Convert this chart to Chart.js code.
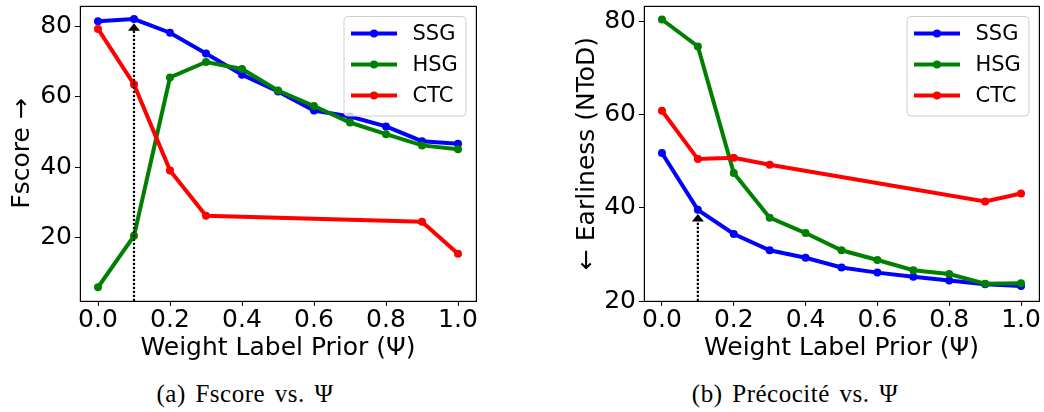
<!DOCTYPE html>
<html><head><meta charset="utf-8">
<script src="https://cdn.jsdelivr.net/npm/chart.js@4"></script>
<style>
html,body{margin:0;padding:0;background:#fff;width:1044px;height:412px;overflow:hidden}
#wrap{position:relative;width:1044px;height:412px;background:#fff}
canvas{position:absolute;top:0}
.cap{position:absolute;font-family:"Liberation Serif";font-size:25px;line-height:30px;letter-spacing:0.5px;word-spacing:3px;white-space:nowrap;transform:translateX(-50%);color:#000}
</style></head><body>
<div id="wrap">
<canvas id="ca" width="520" height="370" style="left:0"></canvas>
<canvas id="cb" width="524" height="370" style="left:520px"></canvas>
<div class="cap" style="left:245px;top:379px">(a) Fscore vs. Ψ</div>
<div class="cap" style="left:795px;top:379px">(b) Précocité vs. Ψ</div>
</div>
<script>
// ---- data ----
const psi = [0.0, 0.1, 0.2, 0.3, 0.4, 0.5, 0.6, 0.7, 0.8, 0.9, 1.0];
const psiCTC = [0.0, 0.1, 0.2, 0.3, 0.9, 1.0];
const seriesNames = ['SSG', 'HSG', 'CTC'];
const fscoreSSG = [81.5, 82.1, 78.2, 72.3, 66.3, 61.5, 56.1, 54.4, 51.6, 47.4, 46.7];
const fscoreHSG = [5.9, 20.5, 65.5, 69.9, 67.9, 61.8, 57.4, 52.7, 49.4, 46.2, 45.1];
const fscoreCTC = [79.3, 63.5, 39.1, 26.2, 24.5, 15.4];
const earlySSG = [51.8, 39.6, 34.4, 30.9, 29.3, 27.2, 26.1, 25.2, 24.4, 23.6, 23.2];
const earlyHSG = [80.5, 74.7, 47.5, 37.9, 34.6, 30.9, 28.8, 26.6, 25.8, 23.7, 23.8];
const earlyCTC = [60.9, 50.5, 50.8, 49.3, 41.4, 43.1];
const xTicks = [0.0, 0.2, 0.4, 0.6, 0.8, 1.0];
const yTicksA = [20, 40, 60, 80];
const yTicksB = [20, 40, 60, 80];
const arrowA = [0.1, 80.9];   // [psi, tip value]
const arrowB = [0.1, 38.7];
const xLabel = 'Weight Label Prior (Ψ)';
const yLabelA = 'Fscore →';
const yLabelB = '← Earliness (NToD)';

// ---- styling ----
const FONT = 'DejaVu Sans';
const COLORS = ['#0000ff', '#008000', '#ff0000'];

function pts(xs, ys) { return xs.map((x, i) => ({ x: x, y: ys[i] })); }

function mkDatasets(s, h, c) {
  const xs = [psi, psi, psiCTC];
  const ys = [s, h, c];
  return seriesNames.map((n, i) => ({
    label: n,
    data: pts(xs[i], ys[i]),
    borderColor: COLORS[i],
    backgroundColor: COLORS[i],
    pointBackgroundColor: COLORS[i],
    pointBorderColor: COLORS[i],
    borderWidth: 4,
    pointRadius: 4,
    pointBorderWidth: 0,
    pointHoverRadius: 4,
    tension: 0,
    order: 2 - i
  }));
}

const extras = {
  id: 'extras',
  afterDatasetsDraw(chart, args, opts) {
    const ctx = chart.ctx, ca = chart.chartArea;
    const xs = chart.scales.x, ys = chart.scales.y;
    ctx.save();
    // arrow (dotted, with head)
    const px = xs.getPixelForValue(opts.arrow[0]);
    const tip = ys.getPixelForValue(opts.arrow[1]);
    const base = tip + 7.5;
    ctx.strokeStyle = '#000'; ctx.fillStyle = '#000';
    ctx.lineWidth = 2.2;
    ctx.setLineDash([2.2, 1.8]);
    ctx.beginPath(); ctx.moveTo(px, ca.bottom); ctx.lineTo(px, base); ctx.stroke();
    ctx.setLineDash([]);
    ctx.beginPath(); ctx.moveTo(px, tip); ctx.lineTo(px - 6, base); ctx.lineTo(px + 6, base); ctx.closePath(); ctx.fill();
    // spines
    ctx.lineWidth = 1.2;
    ctx.strokeStyle = '#000';
    ctx.strokeRect(ca.left + 0.4, ca.top + 0.4, ca.right - ca.left, ca.bottom - ca.top);
    // legend
    const bw = 122, bh = 99.5;
    const lx = ca.right - 10 - bw, ly = ca.top + 10.5;
    ctx.beginPath();
    ctx.roundRect(lx, ly, bw, bh, 4);
    ctx.fillStyle = 'rgba(255,255,255,0.8)';
    ctx.fill();
    ctx.strokeStyle = '#d0d0d0'; ctx.lineWidth = 1;
    ctx.stroke();
    ctx.font = '21px "' + FONT + '"';
    ctx.textBaseline = 'middle'; ctx.textAlign = 'left';
    chart.data.datasets.forEach((d, i) => {
      const ry = ly + 17 + i * 31;
      ctx.strokeStyle = d.borderColor; ctx.lineWidth = 4;
      ctx.beginPath(); ctx.moveTo(lx + 7, ry); ctx.lineTo(lx + 53, ry); ctx.stroke();
      ctx.fillStyle = d.borderColor;
      ctx.beginPath(); ctx.arc(lx + 30, ry, 4, 0, Math.PI * 2); ctx.fill();
      ctx.fillStyle = '#000';
      ctx.fillText(d.label, lx + 68.5, ry + 1);
    });
    ctx.restore();
  }
};

function makeChart(id, datasets, yMin, yMax, yTicks, yTitle, yTitlePad, axisW, padRight, arrow) {
  const gridOpts = { display: true, drawOnChartArea: false, drawTicks: true, tickLength: 5, color: '#000', tickColor: '#000', lineWidth: 1 };
  return new Chart(document.getElementById(id), {
    type: 'line',
    data: { datasets: datasets },
    plugins: [extras],
    options: {
      responsive: false,
      animation: false,
      devicePixelRatio: 1,
      layout: { padding: { left: 0, right: padRight, top: 6, bottom: 0 } },
      plugins: {
        legend: { display: false },
        tooltip: { enabled: false },
        extras: { arrow: arrow }
      },
      scales: {
        x: {
          type: 'linear', min: -0.05, max: 1.05,
          afterBuildTicks: s => { s.ticks = xTicks.map(v => ({ value: v })); },
          afterFit: s => { s.height = 69; s.paddingLeft = 0; s.paddingRight = 0; },
          ticks: { callback: v => Number(v).toFixed(1), font: { family: FONT, size: 25, lineHeight: 1 }, color: '#000', padding: 1.5, maxRotation: 0, autoSkip: false },
          grid: gridOpts,
          border: { display: false },
          title: { display: true, text: xLabel, color: '#000', font: { family: FONT, size: 25, lineHeight: 1.2 }, padding: { top: 0, bottom: 7 } }
        },
        y: {
          type: 'linear', min: yMin, max: yMax,
          afterBuildTicks: s => { s.ticks = yTicks.map(v => ({ value: v })); },
          afterFit: s => { s.width = axisW; s.paddingTop = 0; s.paddingBottom = 0; },
          ticks: { font: { family: FONT, size: 25, lineHeight: 1 }, color: '#000', padding: 3, autoSkip: false },
          grid: gridOpts,
          border: { display: false },
          title: { display: true, text: yTitle, color: '#000', font: { family: FONT, size: 25, lineHeight: 1.2 }, padding: { top: yTitlePad, bottom: 0 } }
        }
      }
    }
  });
}

makeChart('ca', mkDatasets(fscoreSSG, fscoreHSG, fscoreCTC), 2.0, 85.8, yTicksA, yLabelA, 7.5, 80, 44, arrowA);
makeChart('cb', mkDatasets(earlySSG, earlyHSG, earlyCTC), 20.0, 83.4, yTicksB, yLabelB, 52, 124, 5, arrowB);
</script>
</body></html>
